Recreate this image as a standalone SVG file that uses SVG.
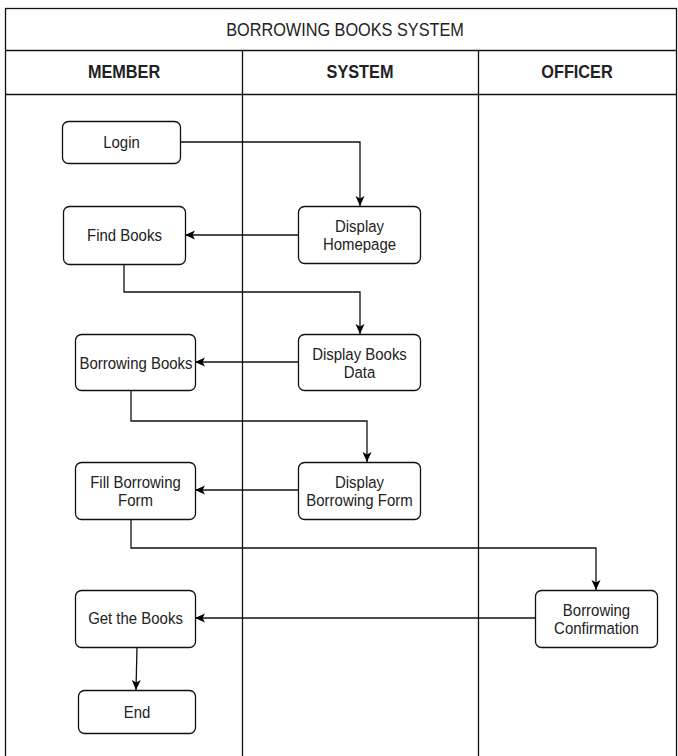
<svg xmlns="http://www.w3.org/2000/svg" width="678" height="756" viewBox="0 0 678 756">
<defs>
<marker id="arr" markerWidth="11" markerHeight="10" refX="10" refY="5" orient="auto" markerUnits="userSpaceOnUse">
<path d="M0,0.5 L10,5 L0,9.5 L2.5,5 Z" fill="#000"/>
</marker>
<style>
.lane{fill:none;stroke:#111;stroke-width:1.3}
.node rect{fill:#fff;stroke:#111;stroke-width:1.3}
text{font-family:"Liberation Sans",Arial,sans-serif;fill:#222;text-anchor:middle;transform-box:fill-box;transform-origin:center;transform:scale(0.88,1)}
.node text{font-size:17px}
.h{font-size:18.5px}
.hb{font-weight:bold}
.c{fill:none;stroke:#111;stroke-width:1.3;marker-end:url(#arr)}
</style>
</defs>
<rect width="678" height="756" fill="#fff"/>
<g id="pool">
<rect class="lane" x="5.5" y="8.5" width="671" height="760"/>
<line class="lane" x1="5.5" y1="50.5" x2="676.5" y2="50.5"/>
<line class="lane" x1="5.5" y1="94.5" x2="676.5" y2="94.5"/>
<line class="lane" x1="242.5" y1="50.5" x2="242.5" y2="756"/>
<line class="lane" x1="478.5" y1="50.5" x2="478.5" y2="756"/>
<text class="h" x="345" y="36.5">BORROWING BOOKS SYSTEM</text>
<text class="h hb" x="124" y="78.5">MEMBER</text>
<text class="h hb" x="360" y="78.5">SYSTEM</text>
<text class="h hb" x="577" y="78.5">OFFICER</text>
</g>
<g id="connectors">
<path class="c" d="M180,142 H360 V206"/>
<path class="c" d="M299,235 H185"/>
<path class="c" d="M124,264 V292 H360 V334"/>
<path class="c" d="M299,362 H195"/>
<path class="c" d="M131,390 V421 H367 V462"/>
<path class="c" d="M299,490 H195"/>
<path class="c" d="M131,519 V548 H596 V590"/>
<path class="c" d="M535,618 H195"/>
<path class="c" d="M137,647 L136,690"/>
</g>
<g id="login" class="node"><rect x="62.5" y="121.5" width="118" height="42" rx="6"/><text x="121.5" y="148">Login</text></g>
<g id="findbooks" class="node"><rect x="63.5" y="206.5" width="122" height="58" rx="6"/><text x="124.5" y="241">Find Books</text></g>
<g id="homepage" class="node"><rect x="298.5" y="206.5" width="122" height="57" rx="6"/><text x="359.5" y="232.5">Display</text><text x="359.5" y="250.5">Homepage</text></g>
<g id="booksdata" class="node"><rect x="298.5" y="334.5" width="122" height="56" rx="6"/><text x="359.5" y="360">Display Books</text><text x="359.5" y="378">Data</text></g>
<g id="borrowing" class="node"><rect x="75.5" y="334.5" width="120" height="56" rx="6"/><text x="136" y="369">Borrowing Books</text></g>
<g id="fillform" class="node"><rect x="75.5" y="462.5" width="120" height="57" rx="6"/><text x="135.5" y="488">Fill Borrowing</text><text x="135.5" y="506">Form</text></g>
<g id="dispform" class="node"><rect x="298.5" y="462.5" width="122" height="57" rx="6"/><text x="359.5" y="488">Display</text><text x="359.5" y="506">Borrowing Form</text></g>
<g id="confirm" class="node"><rect x="535.5" y="590.5" width="122" height="57" rx="6"/><text x="596.5" y="616">Borrowing</text><text x="596.5" y="634">Confirmation</text></g>
<g id="getbooks" class="node"><rect x="75.5" y="590.5" width="120" height="57" rx="6"/><text x="135.5" y="624">Get the Books</text></g>
<g id="end" class="node"><rect x="78.5" y="690.5" width="117" height="43" rx="6"/><text x="137" y="718">End</text></g>
</svg>
